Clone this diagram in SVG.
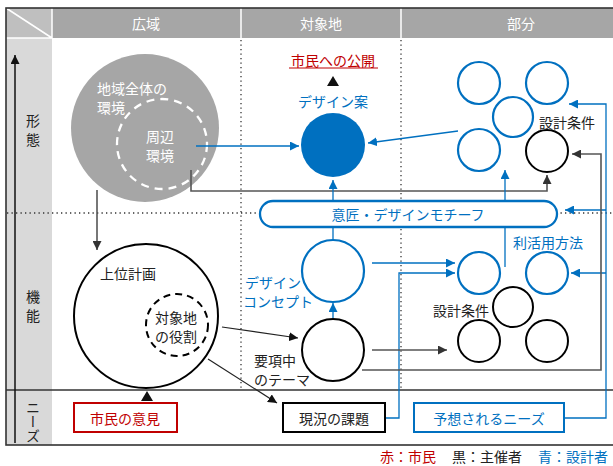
<svg xmlns="http://www.w3.org/2000/svg" width="613" height="466" viewBox="0 0 613 466">
<style>
text{font-family:"Noto Sans CJK JP","Noto Sans",sans-serif;font-size:14px;}
.c{text-anchor:middle;dominant-baseline:central;}
.w{fill:#fff;}
.b{fill:#0070c0;}
.r{fill:#c00000;}
.k{fill:#222;}
.dot{stroke:#333;stroke-width:1.3;stroke-dasharray:1.3 3.2;fill:none;}
.bl{stroke:#0070c0;stroke-width:1.3;fill:none;}
.kl{stroke:#222;stroke-width:1.2;fill:none;}
.gl{stroke:#555;stroke-width:1.6;fill:none;}
.bc{fill:#fff;stroke:#0070c0;stroke-width:2.2;}
.kc{fill:#fff;stroke:#000;stroke-width:2;}
</style>
<defs>
<marker id="ab" viewBox="0 0 10 10" refX="10" refY="5" markerWidth="9" markerHeight="9" markerUnits="userSpaceOnUse" orient="auto"><path d="M0,0L10,5L0,10z" fill="#0070c0"/></marker>
<marker id="ak" viewBox="0 0 10 10" refX="10" refY="5" markerWidth="9" markerHeight="9" markerUnits="userSpaceOnUse" orient="auto"><path d="M0,0L10,5L0,10z" fill="#111"/></marker>
<marker id="ag" viewBox="0 0 10 10" refX="10" refY="5" markerWidth="9" markerHeight="9" markerUnits="userSpaceOnUse" orient="auto"><path d="M0,0L10,5L0,10z" fill="#333"/></marker>
</defs>

<g id="frame">
<rect x="6" y="8" width="640" height="437" fill="#fff"/>
<rect x="52" y="8" width="594" height="30" fill="#a6a6a6"/>
<rect x="6" y="8" width="46" height="30" fill="#bfbfbf"/>
<rect x="6" y="38" width="46" height="407" fill="#d9d9d9"/>
<path d="M52,8V38M241,8V38M401,8V38M6,38H52M6,8L52,38" stroke="#fff" stroke-width="1.5"/>
<text class="c w" x="146" y="23">広域</text>
<text class="c w" x="321" y="23">対象地</text>
<text class="c w" x="521" y="23">部分</text>
<text class="c k" x="33" y="120" font-size="13">形</text>
<text class="c k" x="33" y="139" font-size="13">態</text>
<text class="c k" x="33" y="296" font-size="13">機</text>
<text class="c k" x="33" y="315" font-size="13">能</text>
<text class="k" x="33" y="401" font-size="13" style="writing-mode:vertical-rl">ニーズ</text>
<path class="dot" d="M241,40V390M401,40V390M7,213H613"/>
<path d="M6,390H613" stroke="#333" stroke-width="1.5"/>
<path d="M15,443V55" stroke="#111" stroke-width="1.5" marker-end="url(#ak)"/>
<rect x="6" y="8" width="640" height="437" fill="none" stroke="#333" stroke-width="1.6"/>
</g>

<g id="region">
<circle cx="145" cy="128" r="74" fill="#a6a6a6"/>
<text class="w" x="97" y="94" font-size="13">地域全体の</text>
<text class="w" x="97" y="113" font-size="13">環境</text>
</g>
<g id="surround">
<circle cx="162" cy="144" r="45" fill="none" stroke="#fff" stroke-width="2.3" stroke-dasharray="8 6"/>
<text class="c w" x="160" y="136" font-size="13">周辺</text>
<text class="c w" x="160" y="155" font-size="13">環境</text>
</g>

<g id="public">
<text class="c r" x="333" y="60">市民への公開</text>
<path d="M289,68H378" stroke="#c00000" stroke-width="1"/>
<path d="M333,76L339,86H327z" fill="#111"/>
</g>
<g id="design">
<text class="c b" x="333" y="101">デザイン案</text>
<circle cx="333" cy="145" r="32" fill="#0070c0"/>
</g>

<g id="parts-top">
<circle class="bc" cx="479" cy="83" r="21"/>
<circle class="bc" cx="547" cy="83" r="21"/>
<circle class="bc" cx="513" cy="117" r="20"/>
<circle class="bc" cx="479" cy="150" r="21"/>
<circle class="kc" cx="547" cy="151" r="21"/>
<text class="c k" x="567" y="122">設計条件</text>
</g>

<g id="connectors">
<path class="bl" d="M196,146H299" marker-end="url(#ab)"/>
<path class="bl" d="M458,131L368,143" marker-end="url(#ab)"/>
<path class="gl" d="M191,170V191H547V175" marker-end="url(#ag)"/>
<path class="gl" d="M97,190V250" marker-end="url(#ag)"/>
<path class="bl" d="M333,240V180" marker-end="url(#ab)"/>
<path class="bl" d="M505,267V170" marker-end="url(#ab)"/>
<path class="bl" d="M333,318V303" marker-end="url(#ab)"/>
<path class="bl" d="M372,263H455" marker-end="url(#ab)"/>
<path class="bl" d="M385,418H399V273H455" marker-end="url(#ab)"/>
<path class="bl" d="M564,418H606V104H569" marker-end="url(#ab)"/>
<path class="bl" d="M606,210H565" marker-end="url(#ab)"/>
<path class="bl" d="M606,273H571" marker-end="url(#ab)"/>
<path class="gl" d="M362,370H601V154H572" marker-end="url(#ag)"/>
<path class="gl" d="M372,350H447" marker-end="url(#ag)"/>
<path class="kl" d="M222,327L298,338" marker-end="url(#ak)"/>
<path class="kl" d="M208,359L277,403" marker-end="url(#ak)"/>
<path d="M147,391L153,401H141z" fill="#111"/>
</g>

<g id="motif">
<rect x="260" y="201" width="297" height="26" rx="13" fill="#fff" stroke="#0070c0" stroke-width="2.3"/>
<text class="c b" x="408" y="214">意匠・デザインモチーフ</text>
</g>

<g id="concept">
<circle class="bc" cx="333" cy="271" r="31"/>
<text class="b" x="245" y="288">デザイン</text>
<text class="b" x="243" y="307">コンセプト</text>
</g>

<g id="usage">
<text class="c b" x="548" y="242">利活用方法</text>
<circle class="bc" cx="479" cy="273" r="21"/>
<circle class="bc" cx="547" cy="273" r="21"/>
</g>

<g id="parts-bottom">
<circle class="kc" cx="513" cy="307" r="20"/>
<circle class="kc" cx="479" cy="341" r="21"/>
<circle class="kc" cx="547" cy="341" r="21"/>
<text class="c k" x="461" y="310">設計条件</text>
</g>

<g id="upper-plan">
<circle class="kc" cx="146" cy="316" r="72" fill="none"/>
<text class="c k" x="128" y="273">上位計画</text>
<circle cx="177" cy="325" r="31" fill="none" stroke="#000" stroke-width="2" stroke-dasharray="7 5"/>
<text class="c k" x="176" y="317" font-size="13.5">対象地</text>
<text class="c k" x="176" y="336" font-size="13.5">の役割</text>
</g>

<g id="theme">
<circle class="kc" cx="333" cy="350" r="31"/>
<text class="k" x="254" y="366" font-size="13.5">要項中</text>
<text class="k" x="254" y="385" font-size="13.5">のテーマ</text>
</g>

<g id="opinion">
<rect x="74" y="403" width="103" height="29" fill="#fff" stroke="#c00000" stroke-width="2"/>
<text class="c r" x="125" y="418">市民の意見</text>
</g>
<g id="issues">
<rect x="283" y="403" width="102" height="29" fill="#fff" stroke="#000" stroke-width="2"/>
<text class="c k" x="334" y="418">現況の課題</text>
</g>
<g id="needs">
<rect x="414" y="403" width="150" height="29" fill="#fff" stroke="#0070c0" stroke-width="2"/>
<text class="c b" x="489" y="418">予想されるニーズ</text>
</g>

<g id="legend">
<text class="r" x="380" y="462" font-size="13.5">赤：市民</text>
<text class="k" x="452" y="462" font-size="13.5">黒：主催者</text>
<text class="b" x="538" y="462" font-size="13.5">青：設計者</text>
</g>
</svg>
